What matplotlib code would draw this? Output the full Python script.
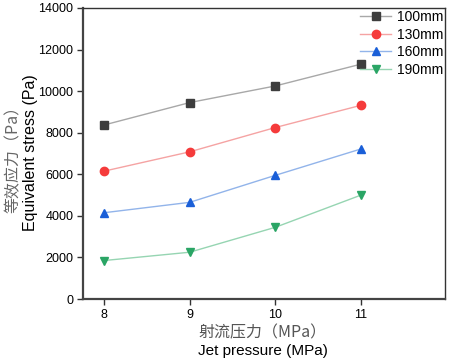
import numpy as np
import matplotlib
matplotlib.use("Agg")
import matplotlib.pyplot as plt

plt.rcParams['font.family'] = ['Liberation Sans', 'Noto Sans CJK SC']

# data
pressure = [8, 9, 10, 11]
labels = ['100mm', '130mm', '160mm', '190mm']
s100 = [8370, 9450, 10250, 11300]
s130 = [6150, 7080, 8250, 9320]
s160 = [4150, 4650, 5950, 7220]
s190 = [1850, 2250, 3450, 5000]
yticks = [0, 2000, 4000, 6000, 8000, 10000, 12000, 14000]

series = [s100, s130, s160, s190]
markers = ['s', 'o', '^', 'v']
mcolors = ['#3d3d3d', '#f53b3b', '#1a5fd8', '#2aa565']
lcolors = ['#a8a8a8', '#f5a3a3', '#92b4ea', '#96d5b2']

fig = plt.figure(figsize=(4.5, 3.64), dpi=100)
ax = fig.add_axes([83/450, 1-299/364, (445-83)/450, (299-8)/364])

for s, m, mc, lc, lab in zip(series, markers, mcolors, lcolors, labels):
    ax.plot(pressure, s, color=lc, lw=1, marker=m, markersize=6,
            markerfacecolor=mc, markeredgecolor=mc, label=lab)

ax.set_xlim(7.755, 11.98)
ax.set_ylim(0, 14000)
ax.set_xticks(pressure)
ax.set_yticks(yticks)
ax.tick_params(axis='both', direction='out', length=4, width=1, labelsize=9,
               top=False, right=False, color='#333333', pad=3)
for sp in ['left', 'bottom']:
    ax.spines[sp].set_linewidth(1.6)
    ax.spines[sp].set_color('#444444')
for sp in ['top', 'right']:
    ax.spines[sp].set_linewidth(1.0)
    ax.spines[sp].set_color('#333333')

leg = ax.legend(loc='upper right', frameon=False, fontsize=10, handlelength=2.2,
                borderaxespad=0.0, borderpad=0.15, labelspacing=0.25, handletextpad=0.4)

fig.text(13/450, 1-155/364, '等效应力（Pa）', rotation=90, ha='center', va='center',
         fontsize=11.5, color='#666666', family=['Noto Sans CJK SC'])
fig.text(31/450, 1-153/364, 'Equivalent stress (Pa)', rotation=90, ha='center',
         va='center', fontsize=11.5)
fig.text(263/450, 1-333/364, '射流压力（MPa）', ha='center', va='center',
         fontsize=11.5, color='#555555', family=['Noto Sans CJK SC', 'Liberation Sans'])
fig.text(263/450, 1-351/364, 'Jet pressure (MPa)', ha='center', va='center',
         fontsize=11)

fig.savefig('out.png', dpi=100)
